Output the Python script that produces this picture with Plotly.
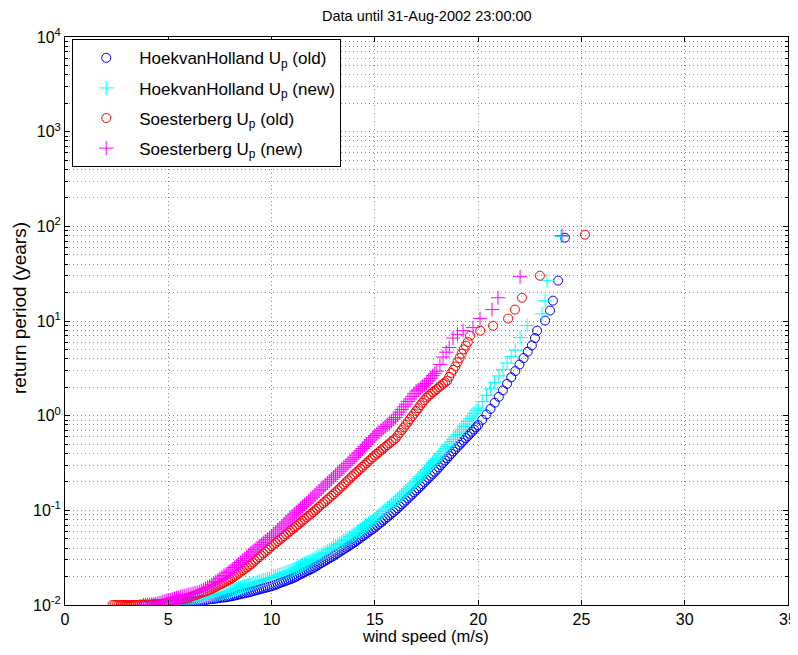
import plotly.graph_objects as go

# ---------------- data ----------------
# HoekvanHolland Up (old): wind speed (m/s) and return period (years)
hvh_old_speed = [
    3.8, 3.9, 4.0, 4.1, 4.2, 4.3, 4.4, 4.5, 4.6, 4.7, 4.8, 4.9, 5.0,
    5.1, 5.2, 5.3, 5.4, 5.5, 5.6, 5.7, 5.8, 5.9, 6.0,
    6.1, 6.2, 6.3, 6.4, 6.5, 6.6, 6.7, 6.8, 6.9, 7.0,
    7.1, 7.2, 7.3, 7.4, 7.5, 7.6, 7.7, 7.8, 7.9, 8.0,
    8.1, 8.2, 8.3, 8.4, 8.5, 8.6, 8.7, 8.8, 8.9, 9.0,
    9.1, 9.2, 9.3, 9.4, 9.5, 9.6, 9.7, 9.8, 9.9, 10.0,
    10.1, 10.2, 10.3, 10.4, 10.5, 10.6, 10.7, 10.8, 10.9, 11.0,
    11.1, 11.2, 11.3, 11.4, 11.5, 11.6, 11.7, 11.8, 11.9, 12.0,
    12.1, 12.2, 12.3, 12.4, 12.5, 12.6, 12.7, 12.8, 12.9, 13.0,
    13.1, 13.2, 13.3, 13.4, 13.5, 13.6, 13.7, 13.8, 13.9, 14.0,
    14.1, 14.2, 14.3, 14.4, 14.5, 14.6, 14.7, 14.8, 14.9, 15.0,
    15.1, 15.2, 15.3, 15.4, 15.5, 15.6, 15.7, 15.8, 15.9, 16.0,
    16.1, 16.2, 16.3, 16.4, 16.5, 16.6, 16.7, 16.8, 16.9, 17.0,
    17.1, 17.2, 17.3, 17.4, 17.5, 17.6, 17.7, 17.8, 17.9, 18.0,
    18.1, 18.2, 18.3, 18.4, 18.5, 18.6, 18.7, 18.8, 18.9, 19.0,
    19.1, 19.2, 19.3, 19.4, 19.5, 19.6, 19.7, 19.8, 19.9, 20.0,
    20.2, 20.4, 20.6, 20.8, 21.0, 21.2, 21.4, 21.6, 21.8, 22.0,
    22.2, 22.4, 22.6, 22.75, 22.85, 23.24, 23.48, 23.62, 23.87, 24.20]
hvh_old_period = [
    0.0100, 0.0100, 0.0100, 0.0100, 0.0101, 0.0101, 0.0101, 0.0101, 0.0101, 0.0102, 0.0102, 0.0102, 0.0102,
    0.0103, 0.0103, 0.0104, 0.0104, 0.0105, 0.0105, 0.0106, 0.0106, 0.0107, 0.0107,
    0.0108, 0.0109, 0.0109, 0.0110, 0.0111, 0.0112, 0.0112, 0.0113, 0.0114, 0.0115,
    0.0116, 0.0116, 0.0117, 0.0118, 0.0119, 0.0120, 0.0120, 0.0121, 0.0122, 0.0123,
    0.0124, 0.0126, 0.0127, 0.0129, 0.0130, 0.0132, 0.0133, 0.0135, 0.0136, 0.0138,
    0.0140, 0.0142, 0.0144, 0.0146, 0.0148, 0.0150, 0.0152, 0.0154, 0.0156, 0.0158,
    0.0161, 0.0164, 0.0167, 0.0171, 0.0174, 0.0177, 0.0180, 0.0184, 0.0187, 0.0191,
    0.0195, 0.0200, 0.0206, 0.0211, 0.0216, 0.0222, 0.0228, 0.0233, 0.0239, 0.0245,
    0.0253, 0.0261, 0.0269, 0.0277, 0.0285, 0.0294, 0.0303, 0.0312, 0.0321, 0.0331,
    0.0342, 0.0353, 0.0365, 0.0377, 0.0389, 0.0402, 0.0415, 0.0429, 0.0443, 0.0457,
    0.0474, 0.0492, 0.0511, 0.0530, 0.0550, 0.0570, 0.0592, 0.0614, 0.0637, 0.0661,
    0.0689, 0.0718, 0.0748, 0.0780, 0.0813, 0.0847, 0.0883, 0.0920, 0.0959, 0.100,
    0.105, 0.110, 0.116, 0.121, 0.127, 0.134, 0.140, 0.147, 0.155, 0.162,
    0.171, 0.179, 0.189, 0.199, 0.209, 0.220, 0.231, 0.243, 0.256, 0.269,
    0.284, 0.301, 0.318, 0.336, 0.355, 0.375, 0.396, 0.419, 0.443, 0.468,
    0.493, 0.520, 0.548, 0.578, 0.610, 0.643, 0.678, 0.714, 0.753, 0.794,
    0.904, 1.03, 1.18, 1.37, 1.58, 1.85, 2.17, 2.54, 2.96, 3.47,
    4.06, 4.74, 5.52, 6.6, 7.9, 10.1, 12.9, 16.4, 26.7, 75.9]

# HoekvanHolland Up (new)
hvh_new_speed = [
    4.3, 4.4, 4.5, 4.6, 4.7, 4.8, 4.9, 5.0,
    5.1, 5.2, 5.3, 5.4, 5.5, 5.6, 5.7, 5.8, 5.9, 6.0,
    6.1, 6.2, 6.3, 6.4, 6.5, 6.6, 6.7, 6.8, 6.9, 7.0,
    7.1, 7.2, 7.3, 7.4, 7.5, 7.6, 7.7, 7.8, 7.9, 8.0,
    8.1, 8.2, 8.3, 8.4, 8.5, 8.6, 8.7, 8.8, 8.9, 9.0,
    9.1, 9.2, 9.3, 9.4, 9.5, 9.6, 9.7, 9.8, 9.9, 10.0,
    10.1, 10.2, 10.3, 10.4, 10.5, 10.6, 10.7, 10.8, 10.9, 11.0,
    11.1, 11.2, 11.3, 11.4, 11.5, 11.6, 11.7, 11.8, 11.9, 12.0,
    12.1, 12.2, 12.3, 12.4, 12.5, 12.6, 12.7, 12.8, 12.9, 13.0,
    13.1, 13.2, 13.3, 13.4, 13.5, 13.6, 13.7, 13.8, 13.9, 14.0,
    14.1, 14.2, 14.3, 14.4, 14.5, 14.6, 14.7, 14.8, 14.9, 15.0,
    15.1, 15.2, 15.3, 15.4, 15.5, 15.6, 15.7, 15.8, 15.9, 16.0,
    16.1, 16.2, 16.3, 16.4, 16.5, 16.6, 16.7, 16.8, 16.9, 17.0,
    17.1, 17.2, 17.3, 17.4, 17.5, 17.6, 17.7, 17.8, 17.9, 18.0,
    18.1, 18.2, 18.3, 18.4, 18.5, 18.6, 18.7, 18.8, 18.9, 19.0,
    19.1, 19.2, 19.3, 19.4, 19.5, 19.6, 19.7, 19.8, 19.9, 20.0,
    20.2, 20.4, 20.6, 20.8, 21.0, 21.2, 21.4, 21.6, 21.8,
    22.03, 22.37, 23.09, 23.24, 23.33, 24.01]
hvh_new_period = [
    0.0100, 0.0100, 0.0100, 0.0101, 0.0101, 0.0101, 0.0102, 0.0102,
    0.0103, 0.0104, 0.0104, 0.0105, 0.0106, 0.0107, 0.0107, 0.0108, 0.0109, 0.0110,
    0.0111, 0.0112, 0.0114, 0.0115, 0.0116, 0.0117, 0.0119, 0.0120, 0.0122, 0.0123,
    0.0125, 0.0126, 0.0128, 0.0130, 0.0132, 0.0134, 0.0136, 0.0137, 0.0139, 0.0141,
    0.0144, 0.0146, 0.0148, 0.0151, 0.0153, 0.0156, 0.0158, 0.0161, 0.0163, 0.0166,
    0.0169, 0.0171, 0.0174, 0.0177, 0.0180, 0.0183, 0.0186, 0.0189, 0.0192, 0.0195,
    0.0199, 0.0202, 0.0206, 0.0210, 0.0214, 0.0218, 0.0222, 0.0226, 0.0230, 0.0234,
    0.0240, 0.0247, 0.0253, 0.0259, 0.0266, 0.0273, 0.0280, 0.0287, 0.0294, 0.0302,
    0.0311, 0.0321, 0.0330, 0.0340, 0.0351, 0.0361, 0.0372, 0.0384, 0.0395, 0.0407,
    0.0421, 0.0435, 0.0449, 0.0463, 0.0479, 0.0494, 0.0511, 0.0527, 0.0545, 0.0562,
    0.0583, 0.0605, 0.0628, 0.0652, 0.0676, 0.0701, 0.0728, 0.0755, 0.0783, 0.0813,
    0.0849, 0.0887, 0.0927, 0.0968, 0.101, 0.106, 0.110, 0.115, 0.121, 0.126,
    0.132, 0.139, 0.146, 0.153, 0.160, 0.168, 0.177, 0.185, 0.195, 0.204,
    0.216, 0.228, 0.241, 0.255, 0.269, 0.284, 0.301, 0.318, 0.336, 0.355,
    0.376, 0.398, 0.422, 0.447, 0.473, 0.501, 0.531, 0.562, 0.596, 0.631,
    0.673, 0.718, 0.766, 0.817, 0.871, 0.929, 0.991, 1.06, 1.13, 1.20,
    1.41, 1.64, 1.92, 2.25, 2.63, 3.08, 3.60, 4.21, 4.92,
    6.67, 8.93, 11.9, 16.4, 26.7, 77.8]

# Soesterberg Up (old)
soe_old_speed = [
    2.3, 2.4, 2.5, 2.6, 2.7, 2.8, 2.9, 3.0, 3.1, 3.2, 3.3, 3.4, 3.5,
    3.6, 3.7, 3.8, 3.9, 4.0, 4.1, 4.2, 4.3, 4.4, 4.5, 4.6, 4.7, 4.8, 4.9, 5.0,
    5.1, 5.2, 5.3, 5.4, 5.5, 5.6, 5.7, 5.8, 5.9, 6.0,
    6.1, 6.2, 6.3, 6.4, 6.5, 6.6, 6.7, 6.8, 6.9, 7.0,
    7.1, 7.2, 7.3, 7.4, 7.5, 7.6, 7.7, 7.8, 7.9, 8.0,
    8.1, 8.2, 8.3, 8.4, 8.5, 8.6, 8.7, 8.8, 8.9, 9.0,
    9.1, 9.2, 9.3, 9.4, 9.5, 9.6, 9.7, 9.8, 9.9, 10.0,
    10.1, 10.2, 10.3, 10.4, 10.5, 10.6, 10.7, 10.8, 10.9, 11.0,
    11.1, 11.2, 11.3, 11.4, 11.5, 11.6, 11.7, 11.8, 11.9, 12.0,
    12.1, 12.2, 12.3, 12.4, 12.5, 12.6, 12.7, 12.8, 12.9, 13.0,
    13.1, 13.2, 13.3, 13.4, 13.5, 13.6, 13.7, 13.8, 13.9, 14.0,
    14.1, 14.2, 14.3, 14.4, 14.5, 14.6, 14.7, 14.8, 14.9, 15.0,
    15.1, 15.2, 15.3, 15.4, 15.5, 15.6, 15.7, 15.8, 15.9, 16.0,
    16.1, 16.2, 16.3, 16.4, 16.5, 16.6, 16.7, 16.8, 16.9, 17.0,
    17.1, 17.2, 17.3, 17.4, 17.5, 17.6, 17.7, 17.8, 17.9, 18.0,
    18.1, 18.2, 18.3, 18.4, 18.5, 18.6, 18.7, 18.8, 18.9, 19.0,
    19.1, 19.2, 19.3, 19.4, 19.5, 19.61, 20.10, 20.72, 21.45, 21.78,
    22.12, 22.99, 25.17]
soe_old_period = [
    0.0100, 0.0100, 0.0100, 0.0100, 0.0100, 0.0100, 0.0100, 0.0100, 0.0100, 0.0100, 0.0100, 0.0100, 0.0100,
    0.0101, 0.0101, 0.0101, 0.0101, 0.0101, 0.0101, 0.0101, 0.0102, 0.0102, 0.0102, 0.0102, 0.0103, 0.0104, 0.0106, 0.0107,
    0.0108, 0.0110, 0.0111, 0.0112, 0.0114, 0.0115, 0.0116, 0.0117, 0.0119, 0.0120,
    0.0122, 0.0125, 0.0127, 0.0129, 0.0132, 0.0134, 0.0137, 0.0139, 0.0142, 0.0145,
    0.0148, 0.0152, 0.0156, 0.0160, 0.0164, 0.0168, 0.0173, 0.0177, 0.0182, 0.0186,
    0.0193, 0.0200, 0.0208, 0.0216, 0.0224, 0.0232, 0.0241, 0.0250, 0.0259, 0.0269,
    0.0281, 0.0294, 0.0307, 0.0321, 0.0335, 0.0350, 0.0366, 0.0382, 0.0399, 0.0417,
    0.0435, 0.0453, 0.0472, 0.0492, 0.0513, 0.0535, 0.0557, 0.0581, 0.0605, 0.0631,
    0.0658, 0.0685, 0.0715, 0.0745, 0.0776, 0.0809, 0.0843, 0.0879, 0.0916, 0.0955,
    0.0998, 0.104, 0.109, 0.114, 0.119, 0.124, 0.130, 0.136, 0.142, 0.148,
    0.155, 0.163, 0.171, 0.179, 0.188, 0.198, 0.207, 0.218, 0.229, 0.240,
    0.251, 0.263, 0.275, 0.288, 0.302, 0.316, 0.331, 0.347, 0.363, 0.380,
    0.396, 0.413, 0.431, 0.449, 0.468, 0.488, 0.508, 0.530, 0.552, 0.575,
    0.615, 0.658, 0.703, 0.752, 0.804, 0.859, 0.918, 0.982, 1.05, 1.12,
    1.20, 1.29, 1.37, 1.46, 1.55, 1.62, 1.69, 1.77, 1.84, 1.91,
    2.00, 2.08, 2.17, 2.25, 2.34, 2.57, 2.82, 3.05, 3.31, 3.67,
    4.07, 4.52, 5.01, 5.50, 6.0, 7.0, 7.9, 8.9, 10.6, 13.2,
    17.6, 30.1, 81.6]

# Soesterberg Up (new)
soe_new_speed = [
    3.8, 3.9, 4.0, 4.1, 4.2, 4.3, 4.4, 4.5, 4.6, 4.7, 4.8, 4.9, 5.0,
    5.1, 5.2, 5.3, 5.4, 5.5, 5.6, 5.7, 5.8, 5.9, 6.0,
    6.1, 6.2, 6.3, 6.4, 6.5, 6.6, 6.7, 6.8, 6.9, 7.0,
    7.1, 7.2, 7.3, 7.4, 7.5, 7.6, 7.7, 7.8, 7.9, 8.0,
    8.1, 8.2, 8.3, 8.4, 8.5, 8.6, 8.7, 8.8, 8.9, 9.0,
    9.1, 9.2, 9.3, 9.4, 9.5, 9.6, 9.7, 9.8, 9.9, 10.0,
    10.1, 10.2, 10.3, 10.4, 10.5, 10.6, 10.7, 10.8, 10.9, 11.0,
    11.1, 11.2, 11.3, 11.4, 11.5, 11.6, 11.7, 11.8, 11.9, 12.0,
    12.1, 12.2, 12.3, 12.4, 12.5, 12.6, 12.7, 12.8, 12.9, 13.0,
    13.1, 13.2, 13.3, 13.4, 13.5, 13.6, 13.7, 13.8, 13.9, 14.0,
    14.1, 14.2, 14.3, 14.4, 14.5, 14.6, 14.7, 14.8, 14.9, 15.0,
    15.1, 15.2, 15.3, 15.4, 15.5, 15.6, 15.7, 15.8, 15.9, 16.0,
    16.1, 16.2, 16.3, 16.4, 16.5, 16.6, 16.7, 16.8, 16.9, 17.0,
    17.1, 17.2, 17.3, 17.4, 17.5, 17.6, 17.7, 17.8, 17.9, 18.0,
    18.15, 18.30, 18.45, 18.60, 18.78, 19.00, 19.27, 19.75, 20.09, 20.67,
    20.96, 22.03, 24.06]
soe_new_period = [
    0.0100, 0.0100, 0.0101, 0.0101, 0.0102, 0.0102, 0.0103, 0.0105, 0.0106, 0.0108, 0.0109, 0.0111, 0.0112,
    0.0114, 0.0115, 0.0117, 0.0119, 0.0120, 0.0122, 0.0124, 0.0125, 0.0127, 0.0129,
    0.0131, 0.0132, 0.0134, 0.0136, 0.0138, 0.0142, 0.0146, 0.0150, 0.0154, 0.0158,
    0.0164, 0.0171, 0.0177, 0.0184, 0.0191, 0.0198, 0.0205, 0.0213, 0.0221, 0.0229,
    0.0239, 0.0249, 0.0259, 0.0270, 0.0282, 0.0295, 0.0309, 0.0324, 0.0339, 0.0355,
    0.0370, 0.0385, 0.0402, 0.0419, 0.0437, 0.0455, 0.0474, 0.0494, 0.0515, 0.0537,
    0.0564, 0.0592, 0.0621, 0.0652, 0.0684, 0.0718, 0.0753, 0.0791, 0.0830, 0.0871,
    0.0912, 0.0955, 0.100, 0.105, 0.110, 0.115, 0.120, 0.126, 0.132, 0.138,
    0.145, 0.152, 0.160, 0.167, 0.176, 0.185, 0.194, 0.203, 0.213, 0.224,
    0.235, 0.247, 0.259, 0.272, 0.285, 0.299, 0.314, 0.330, 0.346, 0.363,
    0.383, 0.404, 0.426, 0.449, 0.473, 0.499, 0.526, 0.555, 0.585, 0.617,
    0.644, 0.673, 0.703, 0.735, 0.767, 0.802, 0.838, 0.875, 0.914, 0.955,
    1.02, 1.09, 1.16, 1.24, 1.32, 1.41, 1.50, 1.60, 1.71, 1.82,
    1.87, 1.95, 2.04, 2.11, 2.19, 2.33, 2.48, 2.65, 2.80, 2.95,
    3.47, 4.17, 4.68, 5.25, 6.61, 7.24, 7.90, 8.51, 10.6, 13.2,
    17.6, 29.4, 79.7]

assert len(hvh_old_speed) == len(hvh_old_period)
assert len(hvh_new_speed) == len(hvh_new_period)
assert len(soe_old_speed) == len(soe_old_period)
assert len(soe_new_speed) == len(soe_new_period)

x_ticks = [0, 5, 10, 15, 20, 25, 30, 35]
y_ticks = [0.01, 0.1, 1, 10, 100, 1000, 10000]
y_ticktext = ["10<sup>-2</sup>", "10<sup>-1</sup>", "10<sup>0</sup>", "10<sup>1</sup>",
              "10<sup>2</sup>", "10<sup>3</sup>", "10<sup>4</sup>"]
y_minor = [m * d for d in [0.01, 0.1, 1, 10, 100, 1000] for m in range(2, 10)]

title_text = "Data until 31-Aug-2002 23:00:00"
x_title = "wind speed (m/s)"
y_title = "return period (years)"
names = ["HoekvanHolland U<sub>p</sub> (old)", "HoekvanHolland U<sub>p</sub> (new)",
         "Soesterberg U<sub>p</sub> (old)", "Soesterberg U<sub>p</sub> (new)"]

FONT = "Liberation Sans, Arial, Helvetica, sans-serif"

fig = go.Figure()
fig.add_trace(go.Scatter(x=hvh_old_speed, y=hvh_old_period, mode="markers", name=names[0],
                         legendgroup="g1",
                         marker=dict(symbol="circle-open", size=9, color="#0000ff",
                                     line=dict(width=1, color="#0000ff"))))
fig.add_trace(go.Scatter(x=hvh_new_speed, y=hvh_new_period, mode="markers", name=names[1],
                         legendgroup="g2",
                         marker=dict(symbol="cross-thin-open", size=10, color="#00ffff",
                                     line=dict(width=1, color="#00ffff"))))
fig.add_trace(go.Scatter(x=soe_old_speed, y=soe_old_period, mode="markers", name=names[2],
                         legendgroup="g3",
                         marker=dict(symbol="circle-open", size=9, color="#ff0000",
                                     line=dict(width=1, color="#ff0000"))))
fig.add_trace(go.Scatter(x=soe_new_speed, y=soe_new_period, mode="markers", name=names[3],
                         legendgroup="g4",
                         marker=dict(symbol="cross-thin-open", size=10, color="#ff00ff",
                                     line=dict(width=1, color="#ff00ff"))))

GRIDCOLOR = "#8c8c8c"
DASH = "1px,3px"

# The page body has an 8 px margin, so the figure is 8 px smaller than the window
fig.update_layout(
    width=790, height=647,
    margin=dict(l=57, r=10, t=29, b=50),
    paper_bgcolor="white", plot_bgcolor="white",
    font=dict(family=FONT, size=16, color="black"),
    showlegend=True,
    legend=dict(x=0.01, y=0.996, xanchor="left", yanchor="top", bgcolor="white",
                bordercolor="black", borderwidth=1, itemwidth=56,
                font=dict(family=FONT, size=17, color="black"), tracegroupgap=5),
    xaxis=dict(range=[0, 35], tickvals=x_ticks, ticks="inside", ticklen=5, tickcolor="black",
               showline=True, linecolor="black", linewidth=1, mirror="ticks", zeroline=False,
               automargin=False, tickfont=dict(family=FONT, size=16, color="black"),
               showgrid=True, gridcolor=GRIDCOLOR, griddash=DASH, gridwidth=1),
    yaxis=dict(type="log", range=[-2, 4], tickvals=y_ticks, ticktext=y_ticktext, ticks="inside",
               ticklen=5, tickcolor="black", showline=True, linecolor="black", linewidth=1,
               mirror="ticks", zeroline=False, automargin=False,
               tickfont=dict(family=FONT, size=16, color="black"),
               showgrid=True, gridcolor=GRIDCOLOR, griddash=DASH, gridwidth=1,
               minor=dict(tickvals=y_minor, ticks="inside", ticklen=3, tickcolor="black",
                          showgrid=True, gridcolor=GRIDCOLOR, griddash=DASH, gridwidth=1)),
    annotations=[
        dict(text=title_text, xref="paper", yref="paper", x=0.5, y=1.0361,
             xanchor="center", yanchor="middle", showarrow=False,
             font=dict(family=FONT, size=14.5, color="black")),
        dict(text=x_title, xref="paper", yref="paper", x=0.498, y=-0.054,
             xanchor="center", yanchor="middle", showarrow=False,
             font=dict(family=FONT, size=16.5, color="black")),
        dict(text=y_title, xref="paper", yref="paper", x=-0.062, y=0.523,
             xanchor="center", yanchor="middle", showarrow=False, textangle=-90,
             font=dict(family=FONT, size=19, color="black")),
    ],
)

fig.write_html("out.html")
